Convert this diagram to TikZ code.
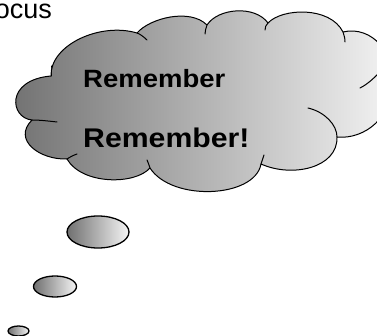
\documentclass[tikz,border=0pt]{standalone}
\usepackage{fontspec}
\setmainfont{Liberation Sans}
\begin{document}
\begin{tikzpicture}[x=1pt,y=-1pt,
  cloudline/.style={draw=black, line width=1pt, line join=round, line cap=round},
  bubble/.style={draw=black, line width=1.3pt, left color=cloudleft, right color=cloudright},
  tick/.style={draw=black, line width=1pt, line cap=round},
  bigtext/.style={inner sep=0pt, anchor=base west, font=\bfseries}]
\definecolor{cloudleft}{RGB}{112,112,112}
\definecolor{cloudright}{RGB}{245,245,245}
\useasboundingbox (0,0) rectangle (377,336);
\clip (0,0) rectangle (377,336);
% title fragment
\node[inner sep=0pt, anchor=base east, font=\fontsize{27}{30}\selectfont] (title) at (52,18.5) {ocus};
% cloud
\coordinate (A) at (51,76);
\coordinate (B) at (137,33);
\coordinate (C) at (207,25);
\coordinate (D) at (268,23);
\coordinate (E) at (343,32);
\coordinate (F) at (388,85);
\coordinate (G) at (337,137);
\coordinate (H) at (261,164);
\coordinate (I) at (150,168);
\coordinate (J) at (67,159);
\coordinate (K) at (32,120);
\path[cloudline, left color=cloudleft, right color=cloudright] (A)
  .. controls (50,45) and (100,22) .. (B)
  .. controls (150,18) and (190,8) .. (C)
  .. controls (218,8) and (255,5) .. (D)
  .. controls (282,8) and (330,6) .. (E)
  .. controls (372,25) and (398,55) .. (F)
  .. controls (395,115) and (365,140) .. (G)
  .. controls (338,168) and (292,178) .. (H)
  .. controls (255,198) and (172,202) .. (I)
  .. controls (135,185) and (82,185) .. (J)
  .. controls (40,160) and (12,140) .. (K)
  .. controls (10,118) and (5,80) .. (A) -- cycle;
% inner ticks
\draw[tick] (A) .. controls (51,73) and (51,70) .. (51,66);
\draw[tick] (B) .. controls (140,34) and (144,37) .. (147,40);
\draw[tick] (C) .. controls (206,28) and (205,31) .. (205,34);
\draw[tick] (D) .. controls (266,25) and (265,27) .. (265,30);
\draw[tick] (E) .. controls (344,35) and (345,38) .. (345,42);
\draw[tick] (360,88) .. controls (368,84) and (374,78) .. (382,70);
\draw[tick] (308,108) .. controls (325,112) and (337,125) .. (G);
\draw[tick] (H) .. controls (262,161) and (263,158) .. (264,155);
\draw[tick] (I) .. controls (149,165) and (148,162) .. (147,160);
\draw[tick] (J) .. controls (70,157) and (74,155) .. (77,154);
\draw[tick] (K) .. controls (40,120) and (48,121) .. (57,122);
% text
\node[bigtext] (r1) at (83,88) {\fontsize{25}{30}\selectfont\scalebox{1.1}[1]{Remember}};
\node[bigtext] (r2) at (83,148) {\fontsize{27}{30}\selectfont\scalebox{1.12}[1]{Remember!}};
% thought bubbles
\path[bubble] (98,232) ellipse [x radius=31, y radius=16];
\path[bubble] (55,286.5) ellipse [x radius=21.5, y radius=10.5];
\path[bubble] (18.5,331) ellipse [x radius=10.5, y radius=5];
\end{tikzpicture}
\end{document}
